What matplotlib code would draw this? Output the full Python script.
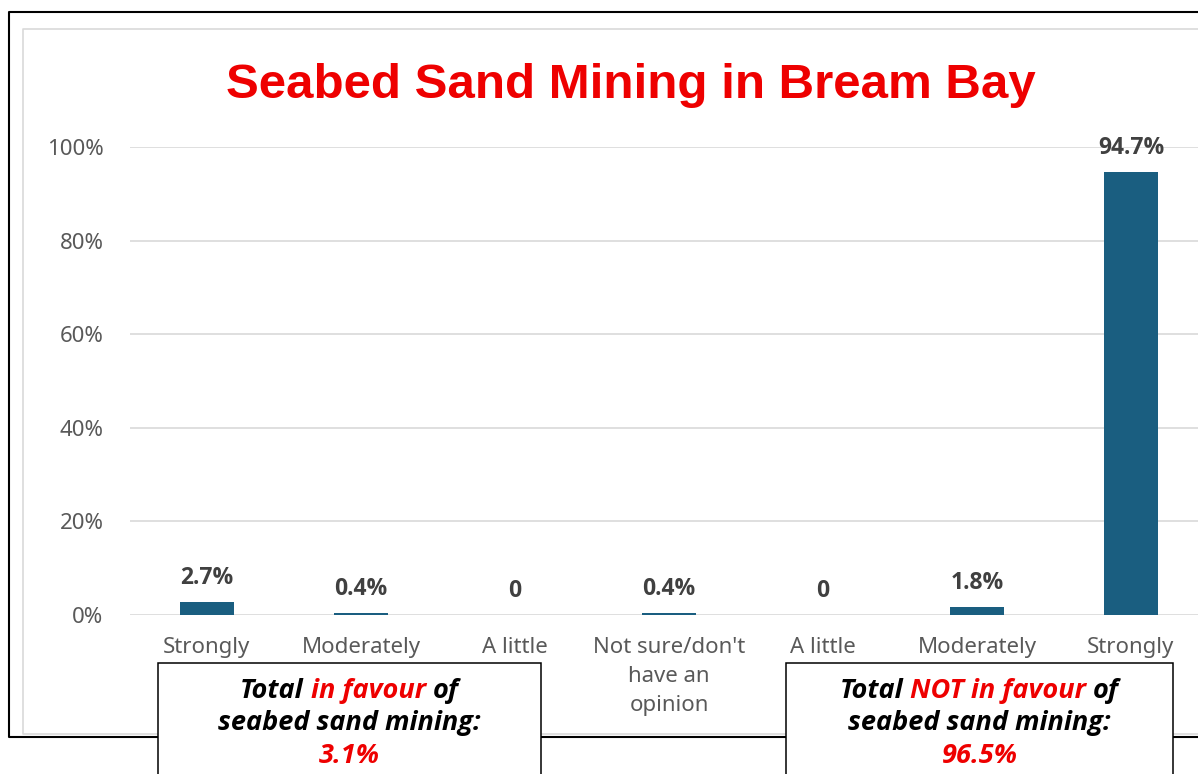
import matplotlib.pyplot as plt
from matplotlib.patches import Rectangle
from matplotlib.lines import Line2D

# data
categories = ["Strongly", "Moderately", "A little", "Not sure/don't\nhave an\nopinion",
              "A little", "Moderately", "Strongly"]
values = [2.7, 0.4, 0, 0.4, 0, 1.8, 94.7]
y_ticks = [0, 20, 40, 60, 80, 100]
title = "Seabed Sand Mining in Bream Bay"
total_favour = 3.1
total_not_favour = 96.5

W, H = 1198, 774
BAR = "#1A5E80"
GRID = "#D9D9D9"
RED = "#EE0000"
FONT = "Noto Sans"
BOLD_FONT = "Open Sans"


def fx(x):
    return x / W


def fy(y):
    return 1 - y / H


fig = plt.figure(figsize=(W / 100, H / 100), dpi=100)
fig.patch.set_facecolor("white")

# outer black frame and inner grey chart border (right side runs off the image)
fig.add_artist(Line2D([fx(1210), fx(8.5), fx(8.5), fx(1210)], [fy(12), fy(12), fy(737), fy(737)],
                      transform=fig.transFigure, color="black", lw=1.5, zorder=0.5))
fig.add_artist(Line2D([fx(1210), fx(23), fx(23), fx(1210)], [fy(28.5), fy(28.5), fy(734), fy(734)],
                      transform=fig.transFigure, color=GRID, lw=1.2, zorder=0.5))

ax = fig.add_axes([fx(130), fy(615), (1208 - 130) / W, (615 - 147) / H])
ax.set_facecolor("none")
x = range(len(values))
ax.bar(x, values, width=0.357, color=BAR, zorder=3)
ax.set_xlim(-0.5, len(values) - 0.5)
ax.set_ylim(0, 100)
for s in ax.spines.values():
    s.set_visible(False)
ax.set_yticks(y_ticks)
ax.set_yticklabels([f"{t}%" for t in y_ticks])
ax.grid(axis="y", color=GRID, lw=1.2, zorder=0)
ax.set_xticks(list(x))
ax.set_xticklabels(categories, linespacing=1.5)
ax.tick_params(length=0, colors="#595959", labelsize=16)
ax.tick_params(axis="y", pad=19)
ax.tick_params(axis="x", pad=16)
for lab in ax.get_xticklabels() + ax.get_yticklabels():
    lab.set_family(FONT)

for i, v in enumerate(values):
    lab = "0" if v == 0 else f"{v}%"
    ax.annotate(lab, (i, v), xytext=(0, 13), textcoords="offset points", ha="center",
                va="baseline", fontsize=16.5, fontweight="bold", color="#404040", family=BOLD_FONT)

fig.text(fx(631), fy(98), title, ha="center", va="baseline", color=RED, fontsize=35.5,
         fontweight="bold", family="Liberation Sans")

# the two summary boxes
box_kw = dict(fontsize=19.5, fontweight="bold", style="italic", family=BOLD_FONT)
r = fig.canvas.get_renderer()


def width(s):
    t = fig.text(0, 0, s, **box_kw)
    w = t.get_window_extent(r).width
    t.remove()
    return w


gap = width("a a") - width("aa")


def mixed_line(parts, cx, y):
    ws = [width(s) for s, c in parts]
    xx = cx - (sum(ws) + gap * (len(parts) - 1)) / 2
    for (s, c), w in zip(parts, ws):
        fig.text(fx(xx), fy(y), s, color=c, ha="left", va="baseline", zorder=5, **box_kw)
        xx += w + gap


for left, right, red_part, total in [(158, 541, "in favour", total_favour),
                                     (786, 1173, "NOT in favour", total_not_favour)]:
    fig.add_artist(Rectangle((fx(left), fy(790)), (right - left) / W, (790 - 663) / H,
                             transform=fig.transFigure, facecolor="white", edgecolor="black",
                             lw=1.1, zorder=4))
    cx = (left + right) / 2
    mixed_line([("Total", "black"), (red_part, RED), ("of", "black")], cx, 698)
    fig.text(fx(cx), fy(730), "seabed sand mining:", ha="center", va="baseline",
             color="black", zorder=5, **box_kw)
    fig.text(fx(cx), fy(763), f"{total}%", ha="center", va="baseline", color=RED,
             zorder=5, **box_kw)

fig.savefig("out.png", dpi=100)
